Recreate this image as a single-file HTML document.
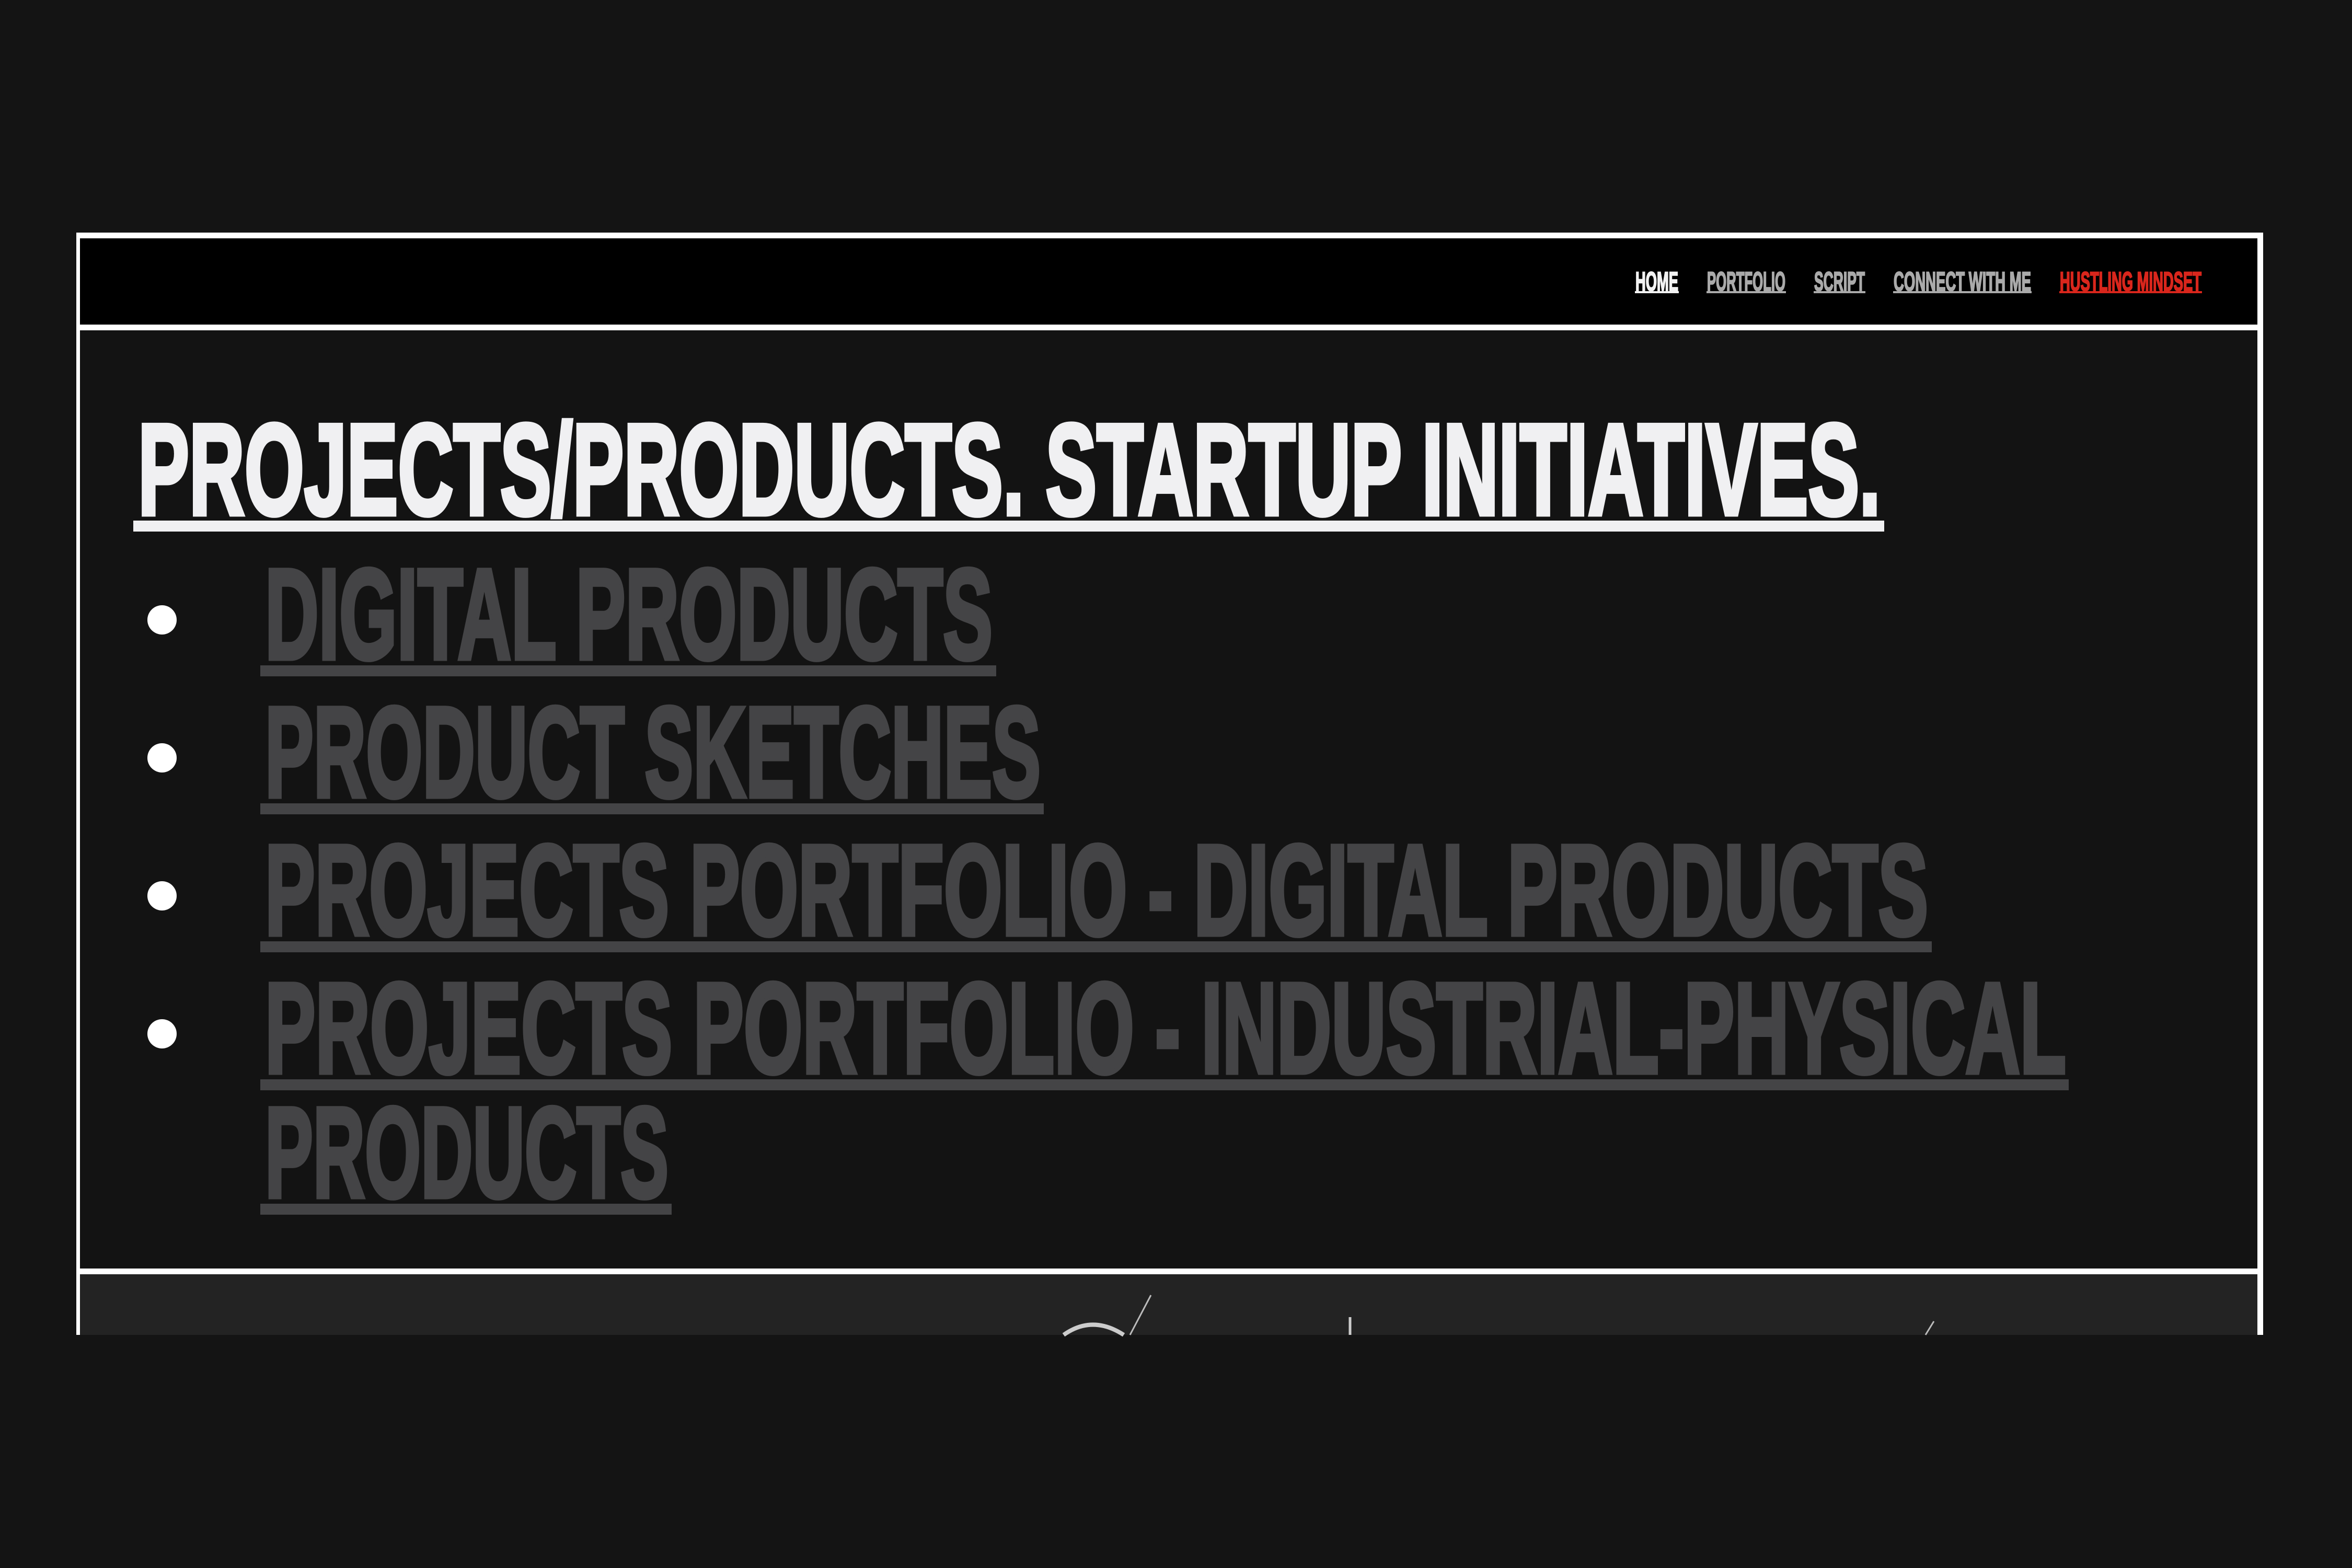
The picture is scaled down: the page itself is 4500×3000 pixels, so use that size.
<!DOCTYPE html>
<html><head><meta charset="utf-8"><style>
html,body{margin:0;padding:0;background:#141414;width:4500px;height:3000px;overflow:hidden}
svg{display:block}
text{font-family:"Liberation Sans",sans-serif;font-weight:bold;stroke-linejoin:miter}
.big{stroke-width:9px}
.nav{stroke-width:2.5px}
</style></head><body>
<svg width="4500" height="3000" viewBox="0 0 4500 3000">
<rect x="0" y="0" width="4500" height="3000" fill="#141414"/>
<g>
<rect x="146" y="445" width="4184" height="11" fill="#ffffff"/>
<rect x="153" y="456" width="4166" height="165" fill="#000000"/>
<rect x="146" y="621" width="4184" height="11" fill="#ffffff"/>
<rect x="153" y="632" width="4166" height="1795" fill="#131313"/>
<rect x="146" y="2427" width="4184" height="11" fill="#ffffff"/>
<rect x="153" y="2438" width="4166" height="116" fill="#232323"/>
<line x1="2202" y1="2478" x2="2162" y2="2554" stroke="#bbb" stroke-width="3"/>
<path d="M2035 2554 Q2090 2515 2150 2554" stroke="#ccc" stroke-width="8" fill="none"/>
<line x1="2583" y1="2520" x2="2583" y2="2554" stroke="#ccc" stroke-width="5"/>
<line x1="3700" y1="2528" x2="3684" y2="2554" stroke="#bbb" stroke-width="3"/>
<rect x="146" y="445" width="7" height="2109" fill="#ffffff"/>
<rect x="4319" y="445" width="11" height="2109" fill="#ffffff"/>
</g>
<g>
<g><text class="nav" x="3129" y="556" font-size="51" fill="#f2f2f2" stroke="#f2f2f2" textLength="82" lengthAdjust="spacingAndGlyphs">HOME</text><rect x="3128" y="557" width="84" height="4" fill="#f2f2f2"/></g>
<g><text class="nav" x="3266" y="556" font-size="51" fill="#aaaaaa" stroke="#aaaaaa" textLength="150" lengthAdjust="spacingAndGlyphs">PORTFOLIO</text><rect x="3265" y="557" width="152" height="4" fill="#aaaaaa"/></g>
<g><text class="nav" x="3471" y="556" font-size="51" fill="#aaaaaa" stroke="#aaaaaa" textLength="97" lengthAdjust="spacingAndGlyphs">SCRIPT</text><rect x="3470" y="557" width="99" height="4" fill="#aaaaaa"/></g>
<g><text class="nav" x="3623" y="556" font-size="51" fill="#aaaaaa" stroke="#aaaaaa" textLength="263" lengthAdjust="spacingAndGlyphs">CONNECT WITH ME</text><rect x="3622" y="557" width="265" height="4" fill="#aaaaaa"/></g>
<g><text class="nav" x="3941" y="556" font-size="51" fill="#d9261c" stroke="#d9261c" textLength="271" lengthAdjust="spacingAndGlyphs">HUSTLING MINDSET</text><rect x="3940" y="557" width="273" height="4" fill="#d9261c"/></g>
</g>
<g>
<text class="big" x="264" y="984" font-size="248" fill="#f0f0f2" stroke="#f0f0f2" textLength="3334" lengthAdjust="spacingAndGlyphs">PROJECTS/PRODUCTS. STARTUP INITIATIVES.</text>
<rect x="255" y="996" width="3350" height="21" fill="#f0f0f2"/>
</g>
<g>
<circle cx="310" cy="1186" r="28" fill="#ffffff"/>
<circle cx="310" cy="1450" r="28" fill="#ffffff"/>
<circle cx="310" cy="1714" r="28" fill="#ffffff"/>
<circle cx="310" cy="1978" r="28" fill="#ffffff"/>
<g><text class="big" x="507" y="1260" font-size="246" fill="#444446" stroke="#444446" textLength="1392" lengthAdjust="spacingAndGlyphs">DIGITAL PRODUCTS</text><rect x="498" y="1273" width="1408" height="21" fill="#444446"/></g>
<g><text class="big" x="507" y="1524" font-size="246" fill="#444446" stroke="#444446" textLength="1484" lengthAdjust="spacingAndGlyphs">PRODUCT SKETCHES</text><rect x="498" y="1537" width="1499" height="21" fill="#444446"/></g>
<g><text class="big" x="507" y="1788" font-size="246" fill="#444446" stroke="#444446" textLength="3182" lengthAdjust="spacingAndGlyphs">PROJECTS PORTFOLIO - DIGITAL PRODUCTS</text><rect x="498" y="1801" width="3198" height="21" fill="#444446"/></g>
<g><text class="big" x="507" y="2052" font-size="246" fill="#444446" stroke="#444446" textLength="3446" lengthAdjust="spacingAndGlyphs">PROJECTS PORTFOLIO - INDUSTRIAL-PHYSICAL</text><rect x="498" y="2065" width="3460" height="21" fill="#444446"/>
<text class="big" x="507" y="2290" font-size="246" fill="#444446" stroke="#444446" textLength="772" lengthAdjust="spacingAndGlyphs">PRODUCTS</text><rect x="498" y="2303" width="787" height="21" fill="#444446"/></g>
</g>
</svg>
</body></html>
